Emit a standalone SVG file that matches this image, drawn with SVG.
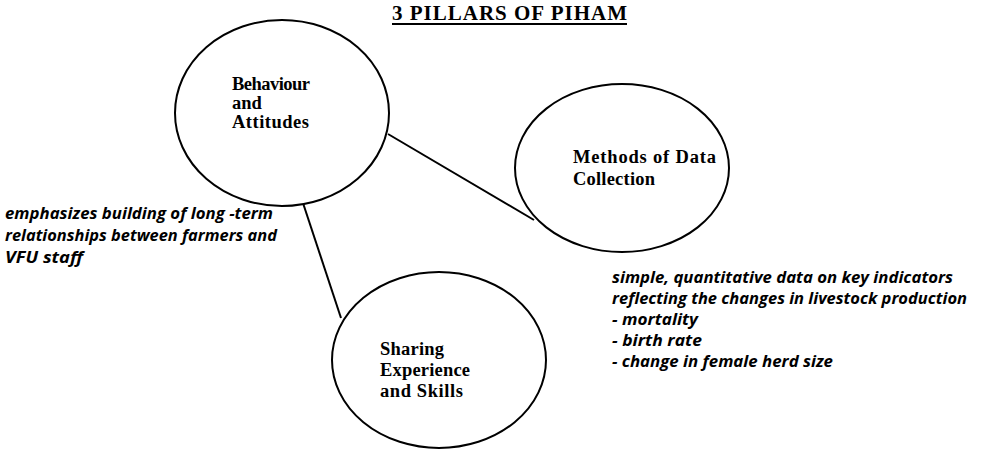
<svg xmlns="http://www.w3.org/2000/svg" width="985" height="460" viewBox="0 0 985 460">
<style>
.node{fill:#fff;stroke:#000;stroke-width:2}
.lbl{font-family:"Liberation Serif","Times New Roman",serif;font-weight:bold;font-size:18.5px;fill:#000}
.title{font-family:"Liberation Serif","Times New Roman",serif;font-weight:bold;font-size:21px;fill:#000}
.note{font-family:"Open Sans","DejaVu Sans",sans-serif;font-style:italic;font-weight:700;font-size:15.5px;fill:#000}
.conn{stroke:#000;stroke-width:2;fill:none}
</style>
<rect width="985" height="460" fill="#fff"/>
<text x="392" y="20" class="title" textLength="235" lengthAdjust="spacing">3 PILLARS OF PIHAM</text>
<line x1="392" y1="24" x2="627" y2="24" stroke="#000" stroke-width="2"/>
<g id="connectors">
<line class="conn" x1="388" y1="134" x2="534" y2="220"/>
<line class="conn" x1="302" y1="200" x2="341" y2="318"/>
</g>
<g id="node-behaviour">
<ellipse class="node" cx="282" cy="113" rx="107" ry="93"/>
<text class="lbl" x="232" y="90" textLength="78" lengthAdjust="spacing">Behaviour</text>
<text class="lbl" x="232" y="109">and</text>
<text class="lbl" x="232" y="128" textLength="77" lengthAdjust="spacing">Attitudes</text>
</g>
<g id="node-methods">
<ellipse class="node" cx="622" cy="168" rx="107" ry="84"/>
<text class="lbl" x="573" y="163" textLength="143" lengthAdjust="spacing">Methods of Data</text>
<text class="lbl" x="573" y="185" textLength="82" lengthAdjust="spacing">Collection</text>
</g>
<g id="node-sharing">
<ellipse class="node" cx="439" cy="360" rx="107" ry="88"/>
<text class="lbl" x="380" y="355" textLength="64" lengthAdjust="spacing">Sharing</text>
<text class="lbl" x="380" y="376" textLength="90" lengthAdjust="spacing">Experience</text>
<text class="lbl" x="380" y="397" textLength="83" lengthAdjust="spacing">and Skills</text>
</g>
<g id="note-left">
<text class="note" x="5" y="219" textLength="268" lengthAdjust="spacingAndGlyphs">emphasizes building of long -term</text>
<text class="note" x="5" y="241" textLength="272" lengthAdjust="spacingAndGlyphs">relationships between farmers and</text>
<text class="note" x="5" y="263" textLength="78" lengthAdjust="spacingAndGlyphs">VFU staff</text>
</g>
<g id="note-right">
<text class="note" x="612" y="283" textLength="341" lengthAdjust="spacingAndGlyphs">simple, quantitative data on key indicators</text>
<text class="note" x="612" y="304" textLength="355" lengthAdjust="spacingAndGlyphs">reflecting the changes in livestock production</text>
<text class="note" x="612" y="325" textLength="86" lengthAdjust="spacingAndGlyphs">- mortality</text>
<text class="note" x="612" y="346" textLength="90" lengthAdjust="spacingAndGlyphs">- birth rate</text>
<text class="note" x="612" y="367" textLength="221" lengthAdjust="spacingAndGlyphs">- change in female herd size</text>
</g>
</svg>
